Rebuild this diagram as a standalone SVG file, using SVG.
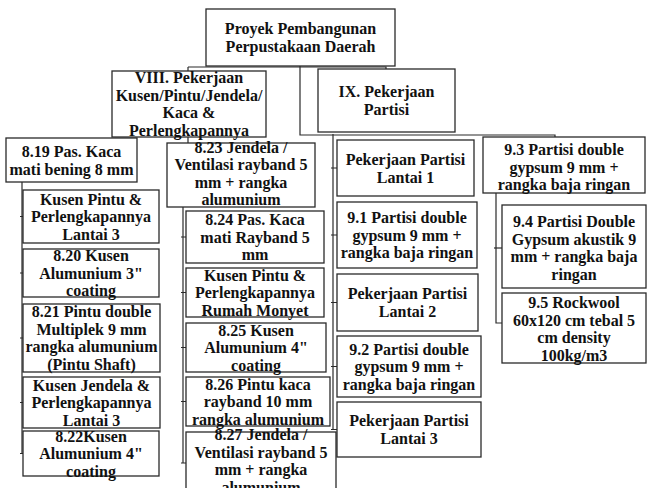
<svg xmlns="http://www.w3.org/2000/svg" width="647" height="488" viewBox="0 0 647 488">
  <style>
    .box { fill: #ffffff; stroke: #2a2a2a; stroke-width: 1.3; }
    .lbl { font-family: "Liberation Serif", "Times New Roman", serif; font-weight: bold; font-size: 16px; fill: #111111; text-anchor: middle; }
    .wire { fill: none; stroke: #2a2a2a; stroke-width: 1.2; }
  </style>
  <rect width="647" height="488" fill="#ffffff"/>

  <!-- connector lines -->
  <g id="connectors">
    <path class="wire" d="M300 66 V135 H555 V137"/>
    <path class="wire" d="M188 67 H386 V69"/>
    <path class="wire" d="M188 67 V143"/>
    <!-- VIII / 8.19 branch -->
    <path class="wire" d="M22 182 V453"/>
    <path class="wire" d="M20 216.5 H23 M20 273 H23 M20 338 H23 M20 402.5 H23 M20 453.5 H23"/>
    <!-- 8.23 branch -->
    <path class="wire" d="M183 207 V463"/>
    <path class="wire" d="M181 237 H186 M181 292.5 H186 M181 347.5 H186 M181 401.5 H186 M181 463 H186"/>
    <!-- IX branch -->
    <path class="wire" d="M333 134 V430"/>
    <path class="wire" d="M331 168 H337 M331 235 H337 M331 302.5 H337 M331 366.5 H337 M331 429.5 H337"/>
    <!-- 9.3 branch -->
    <path class="wire" d="M496 193 V323 H502"/>
    <path class="wire" d="M494 248 H502"/>
  </g>

  <g id="root">
    <rect class="box" x="206" y="9" width="189" height="57"/>
    <text class="lbl" x="300.5" y="34">Proyek Pembangunan</text>
    <text class="lbl" x="300.5" y="52">Perpustakaan Daerah</text>
  </g>

  <g id="viii">
    <rect class="box" x="112" y="71" width="154" height="66"/>
    <text class="lbl" x="189" y="83.25">VIII. Pekerjaan</text>
    <text class="lbl" x="189" y="100.75">Kusen/Pintu/Jendela/</text>
    <text class="lbl" x="189" y="118.25">Kaca &amp;</text>
    <text class="lbl" x="189" y="135.75">Perlengkapannya</text>
  </g>

  <g id="ix">
    <rect class="box" x="318" y="69" width="137" height="63"/>
    <text class="lbl" x="386.5" y="97.25">IX. Pekerjaan</text>
    <text class="lbl" x="386.5" y="114.75">Partisi</text>
  </g>

  <g id="n819">
    <rect class="box" x="6" y="138" width="131" height="44"/>
    <text class="lbl" x="71.5" y="157">8.19 Pas. Kaca</text>
    <text class="lbl" x="71.5" y="174.5">mati bening 8 mm</text>
  </g>

  <g id="kusen-pintu-l3">
    <rect class="box" x="23" y="190" width="136" height="53"/>
    <text class="lbl" x="91" y="204.5">Kusen Pintu &amp;</text>
    <text class="lbl" x="91" y="222">Perlengkapannya</text>
    <text class="lbl" x="91" y="239.5">Lantai 3</text>
  </g>

  <g id="n820">
    <rect class="box" x="23" y="249" width="136" height="48"/>
    <text class="lbl" x="91" y="261">8.20 Kusen</text>
    <text class="lbl" x="91" y="278.5">Alumunium 3"</text>
    <text class="lbl" x="91" y="296">coating</text>
  </g>

  <g id="n821">
    <rect class="box" x="23" y="304" width="137" height="68"/>
    <text class="lbl" x="91.5" y="317.25">8.21 Pintu double</text>
    <text class="lbl" x="91.5" y="334.75">Multiplek 9 mm</text>
    <text class="lbl" x="91.5" y="352.25">rangka alumunium</text>
    <text class="lbl" x="91.5" y="369.75">(Pintu Shaft)</text>
  </g>

  <g id="kusen-jendela-l3">
    <rect class="box" x="23" y="377" width="137" height="51"/>
    <text class="lbl" x="91.5" y="390.5">Kusen Jendela &amp;</text>
    <text class="lbl" x="91.5" y="408">Perlengkapannya</text>
    <text class="lbl" x="91.5" y="425.5">Lantai 3</text>
  </g>

  <g id="n822">
    <rect class="box" x="23" y="431" width="136" height="45"/>
    <text class="lbl" x="91" y="441.5">8.22Kusen</text>
    <text class="lbl" x="91" y="459">Alumunium 4"</text>
    <text class="lbl" x="91" y="476.5">coating</text>
  </g>

  <g id="n823">
    <rect class="box" x="167" y="143" width="148" height="64"/>
    <text class="lbl" x="241" y="152.5">8.23 Jendela /</text>
    <text class="lbl" x="241" y="170">Ventilasi rayband 5</text>
    <text class="lbl" x="241" y="187.5">mm + rangka</text>
    <text class="lbl" x="241" y="205">alumunium</text>
  </g>

  <g id="n824">
    <rect class="box" x="186" y="211" width="138" height="52"/>
    <text class="lbl" x="255" y="225">8.24 Pas. Kaca</text>
    <text class="lbl" x="255" y="242.5">mati Rayband 5</text>
    <text class="lbl" x="255" y="260">mm</text>
  </g>

  <g id="kusen-pintu-rumah-monyet">
    <rect class="box" x="186" y="268" width="138" height="49"/>
    <text class="lbl" x="255" y="280.5">Kusen Pintu &amp;</text>
    <text class="lbl" x="255" y="298">Perlengkapannya</text>
    <text class="lbl" x="255" y="315.5">Rumah Monyet</text>
  </g>

  <g id="n825">
    <rect class="box" x="186" y="323" width="140" height="49"/>
    <text class="lbl" x="256" y="335.5">8.25 Kusen</text>
    <text class="lbl" x="256" y="353">Alumunium 4"</text>
    <text class="lbl" x="256" y="370.5">coating</text>
  </g>

  <g id="n826">
    <rect class="box" x="186" y="377" width="144" height="49"/>
    <text class="lbl" x="258" y="389.5">8.26 Pintu kaca</text>
    <text class="lbl" x="258" y="407">rayband 10 mm</text>
    <text class="lbl" x="258" y="424.5">rangka alumunium</text>
  </g>

  <g id="n827">
    <rect class="box" x="186" y="432" width="150" height="60"/>
    <text class="lbl" x="261" y="440">8.27 Jendela /</text>
    <text class="lbl" x="261" y="457.5">Ventilasi rayband 5</text>
    <text class="lbl" x="261" y="475">mm + rangka</text>
    <text class="lbl" x="261" y="492.5">alumunium</text>
  </g>

  <g id="partisi-l1">
    <rect class="box" x="337" y="140" width="137" height="56"/>
    <text class="lbl" x="405.5" y="165">Pekerjaan Partisi</text>
    <text class="lbl" x="405.5" y="182.5">Lantai 1</text>
  </g>

  <g id="n91">
    <rect class="box" x="337" y="202" width="140" height="66"/>
    <text class="lbl" x="407" y="223">9.1 Partisi double</text>
    <text class="lbl" x="407" y="240.5">gypsum 9 mm +</text>
    <text class="lbl" x="407" y="258">rangka baja ringan</text>
  </g>

  <g id="partisi-l2">
    <rect class="box" x="337" y="274" width="141" height="57"/>
    <text class="lbl" x="407.5" y="299.25">Pekerjaan Partisi</text>
    <text class="lbl" x="407.5" y="316.75">Lantai 2</text>
  </g>

  <g id="n92">
    <rect class="box" x="337" y="336" width="144" height="61"/>
    <text class="lbl" x="409" y="354.5">9.2 Partisi double</text>
    <text class="lbl" x="409" y="372">gypsum 9 mm +</text>
    <text class="lbl" x="409" y="389.5">rangka baja ringan</text>
  </g>

  <g id="partisi-l3">
    <rect class="box" x="337" y="402" width="144" height="55"/>
    <text class="lbl" x="409" y="426.25">Pekerjaan Partisi</text>
    <text class="lbl" x="409" y="443.75">Lantai 3</text>
  </g>

  <g id="n93">
    <rect class="box" x="483" y="137" width="162" height="56"/>
    <text class="lbl" x="564" y="155">9.3 Partisi double</text>
    <text class="lbl" x="564" y="172.5">gypsum 9 mm +</text>
    <text class="lbl" x="564" y="190">rangka baja ringan</text>
  </g>

  <g id="n94">
    <rect class="box" x="502" y="205" width="144" height="83"/>
    <text class="lbl" x="574" y="227">9.4 Partisi Double</text>
    <text class="lbl" x="574" y="244.5">Gypsum akustik 9</text>
    <text class="lbl" x="574" y="262">mm + rangka baja</text>
    <text class="lbl" x="574" y="279.5">ringan</text>
  </g>

  <g id="n95">
    <rect class="box" x="502" y="293" width="144" height="70"/>
    <text class="lbl" x="574" y="308">9.5 Rockwool</text>
    <text class="lbl" x="574" y="325.5">60x120 cm tebal 5</text>
    <text class="lbl" x="574" y="343">cm density</text>
    <text class="lbl" x="574" y="360.5">100kg/m3</text>
  </g>
</svg>
